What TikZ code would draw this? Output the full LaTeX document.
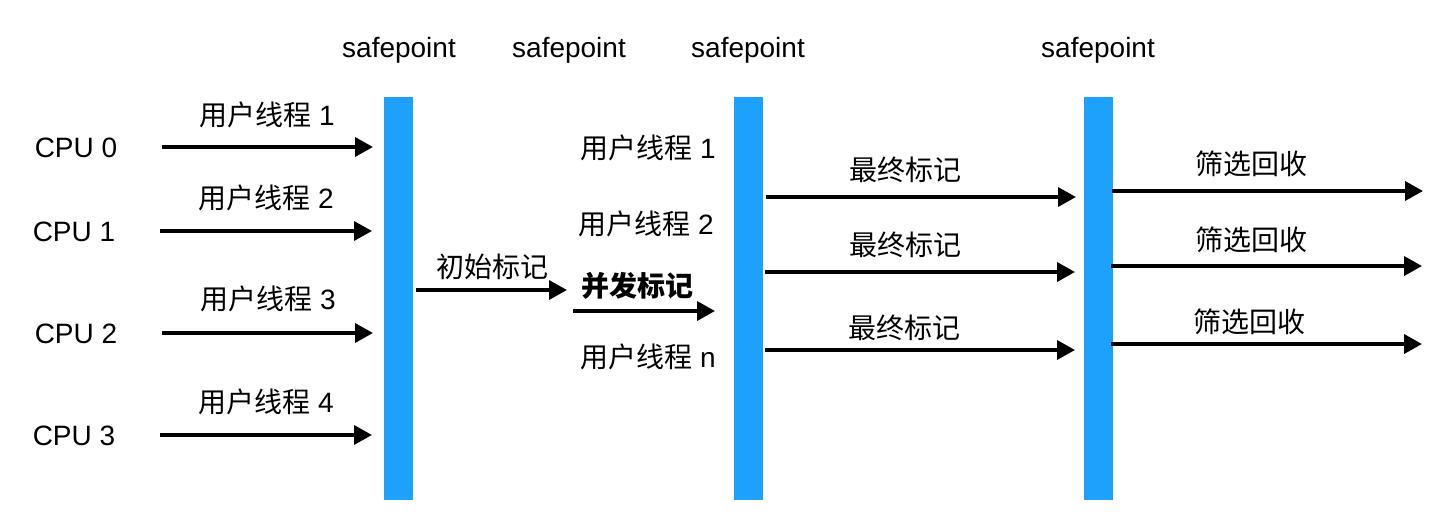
\documentclass[tikz,border=0pt]{standalone}
\usepackage{fontspec}
\setmainfont{Liberation Sans}
\newfontfamily\cjk{Noto Sans CJK SC}
\usetikzlibrary{arrows.meta}
\definecolor{spblue}{RGB}{30,161,250}
\begin{document}
\begin{tikzpicture}[x=1pt,y=-1pt,
  txt/.style={inner sep=0pt,font=\fontsize{28}{32}\selectfont},
  bar/.style={fill=spblue,draw=none,minimum width=29pt,minimum height=403pt,inner sep=0pt},
  arr/.style={line width=3.6pt,-{Triangle[length=18pt,width=19pt]}}]
\useasboundingbox (0,0) rectangle (1450,532);
% bars
\node[bar] (b1) at (398.5,298.5) {};
\node[bar] (b2) at (748,298.5) {};
\node[bar] (b3) at (1098.5,298.5) {};
% safepoint labels
\node[txt] (s1) at (399,50) {safepoint};
\node[txt] (s2) at (569,50) {safepoint};
\node[txt] (s3) at (748,50) {safepoint};
\node[txt] (s4) at (1098,50) {safepoint};
% CPUs
\node[txt] (c0) at (76,148) {CPU 0};
\node[txt] (c1) at (74,232) {CPU 1};
\node[txt] (c2) at (76,334) {CPU 2};
\node[txt] (c3) at (74,436) {CPU 3};
\coordinate (a0s) at (162,147); \coordinate (a0e) at (373,147);
\coordinate (a1s) at (160,231); \coordinate (a1e) at (372,231);
\coordinate (a2s) at (162,333); \coordinate (a2e) at (373,333);
\coordinate (a3s) at (160,435); \coordinate (a3e) at (372,435);
\draw[arr] (a0s) -- (a0e);
\draw[arr] (a1s) -- (a1e);
\draw[arr] (a2s) -- (a2e);
\draw[arr] (a3s) -- (a3e);
\node[txt] (u1) at (267,115) {{\cjk 用户线程} 1};
\node[txt] (u2) at (266,198) {{\cjk 用户线程} 2};
\node[txt] (u3) at (268,299) {{\cjk 用户线程} 3};
\node[txt] (u4) at (266,402) {{\cjk 用户线程} 4};
% initial mark
\coordinate (ims) at (416,290); \coordinate (ime) at (567,290);
\draw[arr] (ims) -- (ime);
\node[txt] (iml) at (492,267) {\cjk 初始标记};
% concurrent mark
\node[txt] (cml) at (637,286) {\cjk\bfseries 并发标记};
\coordinate (cms) at (573,311); \coordinate (cme) at (715,311);
\draw[arr] (cms) -- (cme);
\node[txt] (v1) at (648,148) {{\cjk 用户线程} 1};
\node[txt] (v2) at (646,224) {{\cjk 用户线程} 2};
\node[txt] (vn) at (648,357) {{\cjk 用户线程} n};
% final mark
\coordinate (f1s) at (766,197); \coordinate (f1e) at (1076,197);
\coordinate (f2s) at (765,272); \coordinate (f2e) at (1075,272);
\coordinate (f3s) at (765,350); \coordinate (f3e) at (1075,350);
\draw[arr] (f1s) -- (f1e);
\draw[arr] (f2s) -- (f2e);
\draw[arr] (f3s) -- (f3e);
\node[txt] (fl1) at (905,170) {\cjk 最终标记};
\node[txt] (fl2) at (905,245) {\cjk 最终标记};
\node[txt] (fl3) at (904,328) {\cjk 最终标记};
% cleanup
\coordinate (r1s) at (1112,191); \coordinate (r1e) at (1423,191);
\coordinate (r2s) at (1111,266); \coordinate (r2e) at (1422,266);
\coordinate (r3s) at (1111,344); \coordinate (r3e) at (1422,344);
\draw[arr] (r1s) -- (r1e);
\draw[arr] (r2s) -- (r2e);
\draw[arr] (r3s) -- (r3e);
\node[txt] (rl1) at (1251,164) {\cjk 筛选回收};
\node[txt] (rl2) at (1251,240) {\cjk 筛选回收};
\node[txt] (rl3) at (1249,322) {\cjk 筛选回收};
\end{tikzpicture}
\end{document}
